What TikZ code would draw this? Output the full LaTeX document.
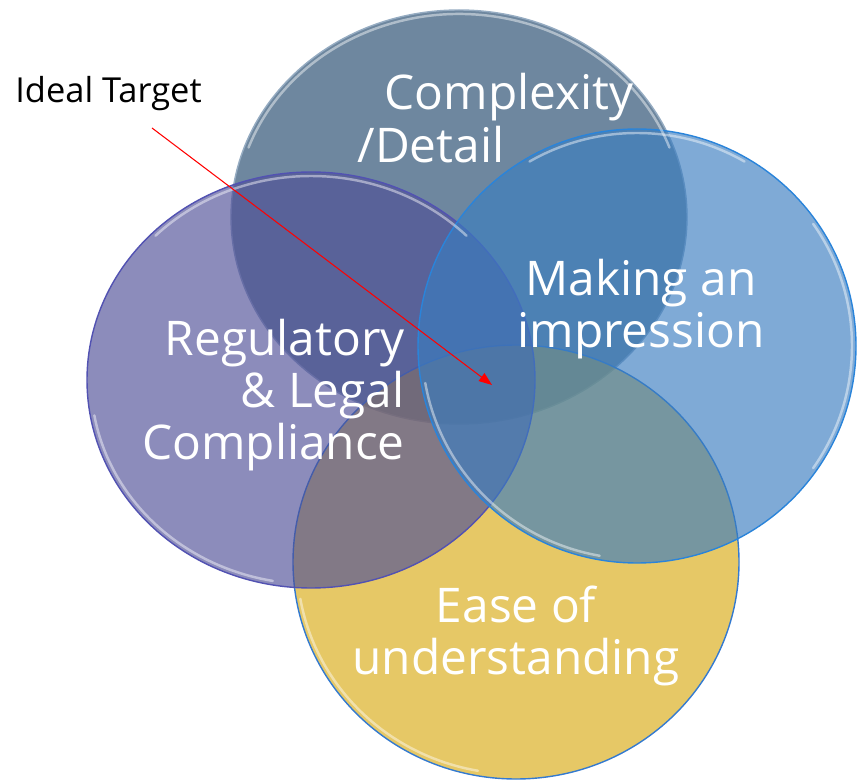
\documentclass[tikz,border=0pt]{standalone}
\usepackage{fontspec}
\setmainfont{Open Sans}
\usetikzlibrary{arrows.meta}

\definecolor{cplxfill}{RGB}{32,71,108}
\definecolor{regfill}{RGB}{78,78,151}
\definecolor{imprfill}{RGB}{58,125,192}
\definecolor{easefill}{RGB}{217,171,20}
\definecolor{cplxline}{RGB}{150,172,194}
\definecolor{regline}{RGB}{82,82,178}
\definecolor{imprline}{RGB}{42,132,218}
\definecolor{easeline}{RGB}{52,122,208}

\tikzset{
  blob/.style={fill opacity=0.65, line width=0.8pt},
  gloss/.style={white, opacity=0.45, line width=1.4pt, line cap=round},
  caption/.style={text=white, inner sep=0pt, align=center,
    font=\fontsize{27.2}{29.6}\selectfont},
  pointer/.style={red, line width=0.6pt, -{Triangle[length=7.5pt,width=5.5pt]}}
}

\begin{document}
\begin{tikzpicture}[x=0.02cm, y=-0.02cm]
  \useasboundingbox (0,0) rectangle (858,783);
  % centres of the four sets
  \coordinate (cplx) at (459,217);
  \coordinate (ease) at (516,562);
  \coordinate (reg) at (311,380);
  \coordinate (impr) at (637,346);

  \filldraw[blob, fill=cplxfill, draw=cplxline] (cplx) ellipse [x radius=228, y radius=207];
  \filldraw[blob, fill=easefill, draw=easeline] (ease) ellipse [x radius=223, y radius=217];
  \filldraw[blob, fill=regfill, draw=regline] (reg) ellipse [x radius=224, y radius=208];
  \filldraw[blob, fill=imprfill, draw=imprline] (impr) ellipse [x radius=219, y radius=217];

  % glossy rims
  \draw[gloss] ([shift={(200:224 and 203)}]cplx) arc[start angle=200, end angle=340, x radius=224, y radius=203];
  \draw[gloss] ([shift={(100:219 and 212)}]ease) arc[start angle=100, end angle=170, x radius=219, y radius=212];
  \draw[gloss] ([shift={(100:220 and 204)}]reg) arc[start angle=100, end angle=170, x radius=220, y radius=204];
  \draw[gloss] ([shift={(225:220 and 204)}]reg) arc[start angle=225, end angle=315, x radius=220, y radius=204];
  \draw[gloss] ([shift={(100:215 and 213)}]impr) arc[start angle=100, end angle=170, x radius=215, y radius=213];
  \draw[gloss] ([shift={(240:215 and 213)}]impr) arc[start angle=240, end angle=300, x radius=215, y radius=213];
  \draw[gloss] ([shift={(-35:215 and 213)}]impr) arc[start angle=-35, end angle=35, x radius=215, y radius=213];

  % labels
  \node[caption, anchor=base] (cplxtop) at (509,110) {Complexity};
  \node[caption, anchor=base] (cplxbot) at (431,163) {/Detail};
  \node[caption, align=right, anchor=east] (regtxt) at (405,395) {Regulatory\\\& Legal\\Compliance};
  \node[caption] (imprtxt) at (641,309) {Making an\\impression};
  \node[caption] (easetxt) at (516,636) {Ease of\\understanding};

  \node[anchor=base west, inner sep=0pt, font=\fontsize{19.6}{22}\selectfont] (ideal) at (15,103) {Ideal Target};
  \coordinate (tail) at (152,128);
  \coordinate (aim) at (492,385);
  \draw[pointer] (tail) -- (aim);
\end{tikzpicture}
\end{document}
